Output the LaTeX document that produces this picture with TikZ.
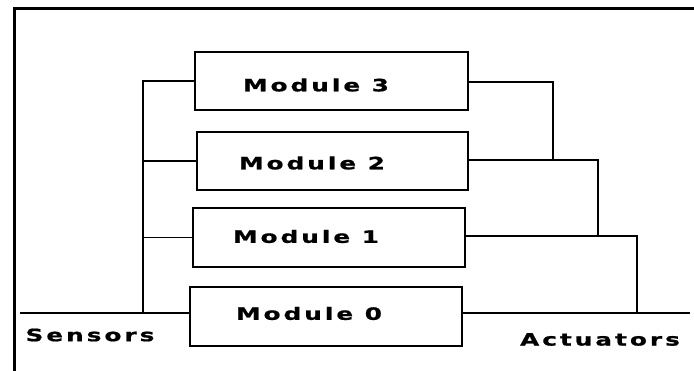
\documentclass[tikz,border=0pt]{standalone}
\usepackage{fontspec}
\newfontfamily\lblfont[FakeStretch=1.45,LetterSpace=18,FakeBold=1]{DejaVu Sans Bold}
\begin{document}
\begin{tikzpicture}[x=1pt,y=-1pt,
  box/.style={draw=black, line width=1.8pt, inner sep=0pt},
  lbl/.style={font=\lblfont\fontsize{17}{20}\selectfont, inner sep=0pt},
  wire/.style={line width=1.8pt}]
\useasboundingbox (0,0) rectangle (694,371);
\fill[white] (0,0) rectangle (694,371);
\draw[line width=3pt] (14,371) -- (14,9) -- (694,9);
\node[box, minimum width=273pt, minimum height=58pt] (m3) at (331.5,81) {};
\node[box, minimum width=271pt, minimum height=58pt] (m2) at (332.5,161) {};
\node[box, minimum width=272pt, minimum height=59pt] (m1) at (329,237.5) {};
\node[box, minimum width=272pt, minimum height=59pt] (m0) at (326,316.5) {};
\node[lbl] (t3) at (316,85) {Module 3};
\node[lbl] (t2) at (312,163) {Module 2};
\node[lbl] (t1) at (306,236.5) {Module 1};
\node[lbl] (t0) at (309,313.5) {Module 0};
\node[lbl] (ts) at (90,335) {Sensors};
\node[lbl] (ta) at (600,339.5) {Actuators};
\coordinate (bt) at (143,81);
\coordinate (bb) at (143,313);
\coordinate (sens) at (20,313);
\coordinate (r3) at (553,82);
\coordinate (r2) at (598,160);
\coordinate (r1) at (637,236);
\coordinate (act) at (690,313);
\draw[wire] (m3.west) -- (bt) -- (bb);
\draw[wire] (m2.west) -- (m2.west -| bt);
\draw[wire] (m1.west) -- (m1.west -| bt);
\draw[wire] (sens) -- (m0.west |- sens);
\draw[wire] (m3.east |- r3) -- (r3) -- (r3 |- r2);
\draw[wire] (m2.east |- r2) -- (r2) -- (r2 |- r1);
\draw[wire] (m1.east |- r1) -- (r1) -- (r1 |- act);
\draw[wire] (m0.east |- act) -- (act);
\end{tikzpicture}
\end{document}
